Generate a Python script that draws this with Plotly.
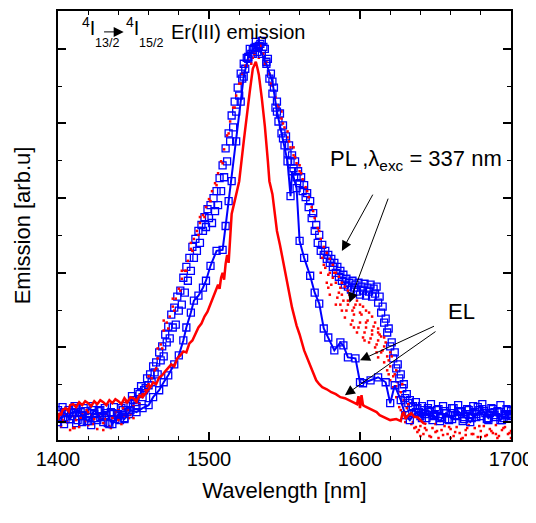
import plotly.graph_objects as go

# PL, blue open squares (dense), even wavelengths
pl_blue_wl = list(range(1400, 1701, 2))
pl_blue = [12, 4, -2, 9, 3, 10, -1, 6, 0, 11, 5, -3, 8, 2, 12, 0, 7, -2, 9, 3,
           6, 14, 4, 10, 18, 22, 16, 28, 25, 34, 37, 40, 50, 48, 62, 66, 80, 84, 95, 98,
           112, 118, 130, 142, 152, 165, 172, 180, 192, 196, 205, 200, 212, 218, 232, 246, 262, 282, 296, 312,
           328, 345, 355, 365, 370, 376, 372, 380, 377, 362, 345, 330, 316, 302, 290, 278, 270, 262, 255, 246,
           240, 232, 226, 216, 205, 192, 180, 172, 168, 164, 160, 156, 150, 146, 142, 138, 136, 133, 135, 131,
           128, 132, 127, 131, 126, 129, 120, 110, 100, 90, 76, 64, 54, 44, 34, 24, 19, 15, 9, 14,
           6, 12, 4, 10, 2, 8, 13, 5, 11, 3, 9, 14, 6, 10, 1, 8, 12, 4, 10, 15,
           6, 11, 3, 9, 13, 5, 10, 2, 8, 12, 6]

# PL, blue open squares, odd wavelengths
pl_blue_odd_wl = list(range(1401, 1700, 2))
pl_blue_odd = [8, 15, 3, 12, 6, 16, 2, 10, 14, 1,
               9, 16, 4, 11, 6, 14, -1, 10, 15, 7,
               2, 12, 16, 8, 26, 20, 30, 36, 32, 44,
               48, 56, 60, 70, 76, 88, 96, 108, 115, 126,
               132, 145, 156, 165, 176, 184, 192, 198, 206, 214,
               218, 225, 232, 245, 258, 275, 290, 308, 322, 336,
               350, 360, 366, 375, 370, 382, 378, 383, 375, 365,
               350, 336, 322, 310, 298, 287, 278, 268, 262, 252,
               246, 238, 230, 222, 210, 198, 188, 178, 172, 168,
               164, 160, 156, 152, 148, 144, 140, 142, 138, 140,
               136, 139, 135, 138, 134, 136, 126, 116, 104, 94,
               80, 70, 58, 48, 38, 28, 22, 16, 20, 10,
               16, 8, 14, 18, 7, 12, 4, 16, 9, 2,
               14, 7, 17, 11, 3, 13, 8, 16, 5, 12,
               18, 9, 2, 14, 7, 11, 17, 4, 13, 8]

# PL, red dots
pl_red_wl = list(range(1400, 1701, 2)) + [
    1574, 1578, 1580, 1584, 1586, 1588, 1590, 1592, 1594, 1596, 1598, 1600, 1602, 1604, 1606,
    1608, 1610, 1612, 1614, 1616, 1618, 1620, 1622, 1624, 1626, 1628, 1630, 1582, 1596, 1612,
    1640, 1650, 1660, 1670, 1680, 1690, 1700, 1552, 1556, 1548, 1560, 1470, 1476, 1482, 1488,
    1494, 1466, 1460, 1410, 1420, 1430, 1440, 1450, 1445,
    1461, 1465, 1469, 1473, 1477, 1481, 1485, 1489, 1493, 1497, 1501, 1505, 1509, 1513, 1517,
    1521, 1525, 1529, 1533, 1537, 1541, 1545, 1549, 1553, 1557, 1561, 1565, 1569, 1573,
    1575, 1577, 1579, 1581, 1583, 1585, 1587, 1589, 1591, 1593, 1595, 1597, 1599, 1601, 1603,
    1605, 1607, 1609, 1611, 1613, 1615, 1617, 1619, 1621, 1623, 1625, 1627, 1629, 1631, 1633,
    1635, 1637, 1639,
    1643, 1647, 1651, 1655, 1659, 1663, 1667, 1671, 1675, 1679, 1683, 1687, 1691, 1695, 1699,
    1403, 1407, 1411, 1415, 1419, 1423, 1427, 1431, 1435, 1439, 1443, 1447, 1451, 1455, 1459,
    1576, 1580, 1584, 1588, 1592, 1596, 1600, 1604, 1608, 1612, 1616, 1620, 1624, 1628, 1632,
    1579, 1587, 1595, 1603, 1611, 1619, 1627]
pl_red = [5, -4, 8, 0, -8, 6, 2, -5, 9, 1, -3, 7, 3, -7, 5, -1, 8, -4, 4, 10,
          2, -2, 6, 12, 8, 16, 20, 18, 28, 32, 38, 44, 52, 64, 78, 92, 100, 106, 116, 124,
          134, 144, 152, 162, 174, 184, 192, 200, 208, 216, 224, 232, 240, 250, 262, 274, 288, 302, 316, 328,
          340, 350, 358, 364, 360, 370, 374, 378, 370, 362, 350, 338, 326, 316, 305, 296, 286, 276, 268, 260,
          252, 244, 236, 226, 216, 205, 195, 184, 176, 170, 164, 158, 150, 146, 140, 136, 132, 128, 126, 122,
          118, 116, 112, 110, 106, 100, 94, 86, 76, 66, 56, 46, 36, 26, 18, 10, 4, -2, -6, -10,
          -4, -12, -8, -14, -6, -10, -16, -8, -4, -12, -7, -14, -5, -11, -16, -8, -3, -12, -6, -15,
          -9, -4, -13, -7, -11, -3, -14, -8, -5, -12, -9] + [
    150, 140, 128, 118, 130, 112, 105, 118, 98, 108, 90, 100, 85, 95, 80,
    88, 75, 82, 70, 60, 52, 42, 35, 25, 15, 8, 0, 145, 115, 65,
    -14, -2, -16, -13, -15, -12, -16, 292, 276, 312, 258, 102, 124, 152, 180,
    206, 74, 46, -6, 10, -8, 12, 4, 20,
    36, 54, 74, 94, 112, 132, 152, 172, 188, 206, 222, 238, 260, 290, 316,
    340, 358, 366, 366, 360, 340, 318, 300, 282, 266, 250, 232, 212, 192,
    165, 155, 148, 138, 150, 125, 135, 122, 112, 128, 102, 118, 95, 108, 90,
    102, 84, 96, 78, 88, 72, 80, 62, 66, 48, 40, 30, 22, 14, 6,
    0, -5, -8,
    -6, -15, -9, -13, -5, -10, -17, -6, -12, -4, -14, -9, -16, -6, -11,
    2, 10, -6, 4, 12, -2, 8, 3, -6, 6, 14, 4, 22, 26, 36,
    158, 150, 140, 128, 122, 95, 110, 100, 92, 90, 85, 70, 52, 38, 18,
    135, 118, 112, 82, 70, 48, 12]

# EL, blue squares with line
el_blue_wl = [1400, 1404, 1408, 1412, 1416, 1420, 1424, 1428, 1432, 1436, 1440, 1444, 1448, 1452, 1456,
              1460, 1463, 1467, 1470, 1473, 1477, 1480, 1483, 1485, 1488, 1490, 1493, 1496, 1498, 1501,
              1505, 1509, 1511, 1513, 1515, 1518, 1521, 1523, 1526, 1529, 1531, 1535, 1538, 1542, 1545,
              1549, 1552, 1554, 1555, 1558, 1560, 1563, 1567, 1570, 1573, 1576, 1579, 1583, 1587, 1589,
              1592, 1597, 1600, 1602, 1607, 1612, 1617, 1620, 1623, 1627, 1630, 1633, 1637, 1641, 1645,
              1649, 1653, 1657, 1661, 1665, 1669, 1673, 1677, 1681, 1685, 1689, 1693, 1697, 1700]
el_blue = [0, 10, 3, 14, 6, 1, 12, 5, 9, -2, 8, 3, 12, 10, 14,
           17, 25, 32, 40, 47, 58, 67, 82, 95, 110, 122, 127, 135, 142, 157,
           172, 173, 197, 222, 242, 282, 322, 347, 367, 374, 377, 370, 360, 342, 312,
           285, 262, 227, 252, 235, 182, 165, 147, 130, 119, 94, 85, 72, 80, 77,
           65, 64, 40, 39, 42, 45, 40, 19, 37, 22, 7, 2, 10, 4, 12,
           6, 1, 9, 3, 11, 5, 0, 8, 13, 4, 10, 2, 7, 11]

# EL, red solid line
el_red_wl = [1400, 1401, 1402, 1403, 1405, 1407, 1408, 1410, 1412, 1414, 1416, 1418, 1420, 1422, 1424,
             1426, 1428, 1430, 1432, 1434, 1436, 1438, 1440, 1442, 1444, 1446, 1448, 1450, 1452, 1454,
             1456, 1458, 1460, 1462, 1463, 1465, 1467, 1469, 1471, 1473, 1475, 1477, 1479, 1481, 1483,
             1485, 1487, 1489, 1491, 1493, 1495, 1497, 1499, 1500, 1502, 1504, 1506, 1507, 1508, 1509,
             1510, 1511, 1512, 1513, 1514, 1515, 1517, 1520, 1523, 1525, 1527, 1529, 1531, 1532, 1533,
             1535, 1537, 1539, 1540, 1542, 1545, 1547, 1549, 1551, 1553, 1555, 1558, 1560, 1563, 1565,
             1568, 1571, 1573, 1575, 1578, 1581, 1584, 1587, 1590, 1593, 1596, 1598, 1599, 1600, 1601,
             1602, 1603, 1606, 1609, 1611, 1613, 1616, 1620, 1624, 1627, 1628, 1629, 1630, 1632, 1634,
             1636, 1638, 1640, 1642, 1644]
el_red = [2, 9, 7, 12, 14, 11, 17, 18, 15, 20, 17, 21, 19, 16, 21,
          18, 22, 20, 17, 22, 19, 23, 21, 18, 24, 20, 25, 24, 21, 27,
          25, 29, 32, 37, 40, 38, 45, 47, 51, 55, 58, 56, 64, 67, 71,
          70, 79, 82, 88, 95, 99, 106, 111, 115, 124, 132, 138, 134, 145, 150,
          143, 159, 168, 160, 190, 209, 222, 242, 282, 310, 332, 355, 362, 356, 349,
          325, 297, 262, 242, 229, 192, 178, 162, 144, 127, 115, 97, 88, 72, 64,
          54, 42, 38, 35, 33, 30, 28, 25, 24, 22, 20, 18, 26, 14, 27,
          17, 16, 14, 12, 10, 7, 5, 2, 3, 1, 8, 10, 3, 7, 9,
          5, 5, 2, -1, -2]

fnt = "Arial, Liberation Sans, sans-serif"
sq = dict(symbol="square-open", size=7, color="#0000ff", line=dict(width=1.3))

fig = go.Figure()
fig.add_trace(go.Scatter(x=pl_blue_wl, y=pl_blue, mode="markers", marker=sq))
fig.add_trace(go.Scatter(x=pl_blue_odd_wl, y=pl_blue_odd, mode="markers", marker=sq))
fig.add_trace(go.Scatter(x=pl_red_wl, y=pl_red, mode="markers",
                         marker=dict(symbol="square", size=2.5, color="#ff0000")))
fig.add_trace(go.Scatter(x=el_blue_wl, y=el_blue, mode="lines+markers",
                         line=dict(color="#0000ff", width=2), marker=sq))
fig.add_trace(go.Scatter(x=el_red_wl, y=el_red, mode="lines",
                         line=dict(color="#ff0000", width=2.5)))

arrows = [
    (1588, 172, 1609, 230),
    (1593, 120, 1619, 226),
    (1600, 62, 1650, 97),
    (1590, 27, 1651, 92),
    (1443.5, 392, 1429.5, 392),
]
for hx, hy, tx, ty in arrows:
    fig.add_annotation(x=hx, y=hy, ax=tx, ay=ty, xref="x", yref="y", axref="x", ayref="y",
                       text="", showarrow=True, arrowhead=2, arrowsize=2, arrowwidth=1,
                       arrowcolor="black")

# title pieces: (x, y, text, size)
title_bits = [
    (1414.5, 397, "<sup>4</sup>I", 20),
    (1423.0, 381, "13/2", 12.5),
    (1443.5, 397, "<sup>4</sup>I", 20),
    (1452.5, 381, "15/2", 12.5),
    (1473.5, 392, "Er(III) emission", 20),
]
for tx, ty, txt, sz in title_bits:
    fig.add_annotation(x=tx, y=ty, xref="x", yref="y", xanchor="left", yanchor="middle",
                       text=txt, showarrow=False, font=dict(family=fnt, size=sz, color="black"))

fig.add_annotation(x=1579, y=263, xref="x", yref="y", xanchor="left", yanchor="middle",
                   text="PL ,λ<sub>exc</sub> = 337 nm",
                   showarrow=False, font=dict(family=fnt, size=22, color="black"))
fig.add_annotation(x=1657, y=111, xref="x", yref="y", xanchor="left", yanchor="middle",
                   text="EL", showarrow=False, font=dict(family=fnt, size=22, color="black"))

# the page body adds an 8 px offset, so margins are shifted to compensate
fig.update_layout(
    width=536, height=523,
    margin=dict(l=50, r=33, t=1, b=91),
    paper_bgcolor="white", plot_bgcolor="white",
    showlegend=False,
    font=dict(family=fnt, size=20, color="black"),
)
fig.update_xaxes(range=[1400, 1700], tick0=1400, dtick=100, ticks="inside", ticklen=8, tickwidth=1.5,
                 tickcolor="black", showline=True, linecolor="black", linewidth=2, mirror="allticks",
                 showgrid=False, zeroline=False,
                 minor=dict(tick0=1400, dtick=20, ticks="inside", ticklen=4, tickcolor="black", tickwidth=1.2),
                 title=dict(text="Wavelength [nm]", font=dict(size=22), standoff=14),
                 tickfont=dict(size=20))
fig.update_yaxes(range=[-18, 413], tick0=0, dtick=75, ticks="inside", ticklen=8, tickwidth=1.5,
                 tickcolor="black", showline=True, linecolor="black", linewidth=2, mirror="allticks",
                 showgrid=False, zeroline=False, showticklabels=False,
                 minor=dict(tick0=0, dtick=37.5, ticks="inside", ticklen=4, tickcolor="black", tickwidth=1.2),
                 title=dict(text="Emission [arb.u]", font=dict(size=22), standoff=19))

fig.write_html("out.html")
